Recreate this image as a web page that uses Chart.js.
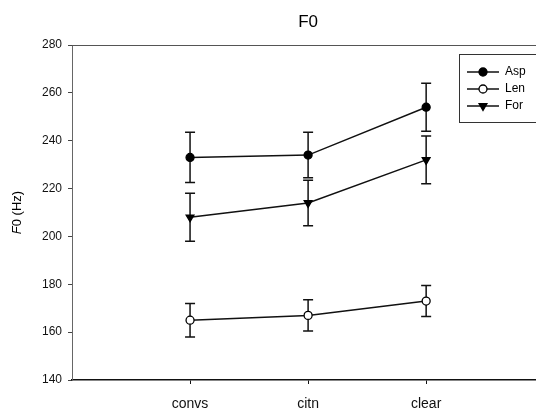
<!DOCTYPE html>
<html>
<head>
<meta charset="utf-8">
<script src="https://cdn.jsdelivr.net/npm/chart.js@4.4.1/dist/chart.umd.min.js"></script>
<style>
  html, body { margin: 0; padding: 0; background: #fff; overflow: hidden; }
  #wrap { width: 550px; height: 416px; }
</style>
</head>
<body>
<div id="wrap"><canvas id="f0Chart" width="550" height="416"></canvas></div>
<script>
// speaking conditions on the x axis
const categories = ['convs', 'citn', 'clear'];

// mean F0 per group (Hz) and the error bar half-widths
const aspValues = [233, 234, 254];
const aspErrors = [10.5, 9.5, 10];
const lenValues = [165, 167, 173];
const lenErrors = [7, 6.5, 6.5];
const forValues = [208, 214, 232];
const forErrors = [10, 9.5, 10];

const yTicks = [140, 160, 180, 200, 220, 240, 260, 280];

const FONT = "'Liberation Sans', Arial, sans-serif";

function toPoints(values) {
  return values.map((v, i) => ({ x: i + 1, y: v }));
}

// error bars drawn under the markers, through the chart scales
const errorBars = {
  id: 'errorBars',
  beforeDatasetsDraw(chart) {
    const { ctx, scales: { x, y } } = chart;
    ctx.save();
    ctx.strokeStyle = '#111';
    ctx.lineWidth = 1.5;
    chart.data.datasets.forEach(ds => {
      ds.data.forEach((p, i) => {
        const px = x.getPixelForValue(p.x);
        const top = y.getPixelForValue(p.y + ds.errors[i]);
        const bot = y.getPixelForValue(p.y - ds.errors[i]);
        ctx.beginPath();
        ctx.moveTo(px, top); ctx.lineTo(px, bot);
        ctx.moveTo(px - 5, top); ctx.lineTo(px + 5, top);
        ctx.moveTo(px - 5, bot); ctx.lineTo(px + 5, bot);
        ctx.stroke();
      });
    });
    ctx.restore();
  }
};

// title, y label with italic F, top frame line and the boxed legend
const decorations = {
  id: 'decorations',
  afterDraw(chart) {
    const { ctx, chartArea } = chart;
    ctx.save();

    // top frame
    ctx.strokeStyle = '#555';
    ctx.lineWidth = 1;
    ctx.beginPath();
    ctx.moveTo(chartArea.left, chartArea.top + 0.5);
    ctx.lineTo(chartArea.right, chartArea.top + 0.5);
    ctx.stroke();

    // title
    ctx.fillStyle = '#000';
    ctx.font = '17px ' + FONT;
    ctx.textAlign = 'center';
    ctx.textBaseline = 'middle';
    ctx.fillText('F0', (chartArea.left + chartArea.right) / 2, 22);

    // y axis title
    ctx.translate(17, (chartArea.top + chartArea.bottom) / 2);
    ctx.rotate(-Math.PI / 2);
    ctx.font = 'italic 13px ' + FONT;
    const wF = ctx.measureText('F').width;
    ctx.font = '13px ' + FONT;
    const rest = '0 (Hz)';
    const wRest = ctx.measureText(rest).width;
    const start = -(wF + wRest) / 2;
    ctx.textAlign = 'left';
    ctx.font = 'italic 13px ' + FONT;
    ctx.fillText('F', start, 0);
    ctx.font = '13px ' + FONT;
    ctx.fillText(rest, start + wF, 0);
    ctx.setTransform(1, 0, 0, 1, 0, 0);

    // legend box
    const bx = 459, by = 54, bw = 120, bh = 68;
    ctx.strokeStyle = '#333';
    ctx.lineWidth = 1;
    ctx.strokeRect(bx + 0.5, by + 0.5, bw, bh);
    const rowY = [72, 89, 106];
    chart.data.datasets.forEach((ds, i) => {
      const yy = rowY[i];
      ctx.strokeStyle = ds.borderColor;
      ctx.lineWidth = 1.5;
      ctx.beginPath();
      ctx.moveTo(467, yy); ctx.lineTo(499, yy);
      ctx.stroke();
      ctx.fillStyle = ds.pointBackgroundColor;
      ctx.strokeStyle = ds.pointBorderColor;
      ctx.lineWidth = ds.pointBorderWidth;
      Chart.helpers.drawPoint(ctx, {
        pointStyle: ds.pointStyle,
        rotation: ds.pointRotation || 0,
        radius: ds.pointRadius,
        borderWidth: ds.pointBorderWidth
      }, 483, yy);
      ctx.fillStyle = '#000';
      ctx.font = '12px ' + FONT;
      ctx.textAlign = 'left';
      ctx.textBaseline = 'middle';
      ctx.fillText(ds.label, 505, yy);
    });
    ctx.restore();
  }
};

function series(label, values, errors, style) {
  return Object.assign({
    label,
    data: toPoints(values),
    errors,
    borderColor: '#111',
    borderWidth: 1.5,
    pointRadius: 4,
    pointHoverRadius: 4,
    pointBorderWidth: 1.3,
    pointBorderColor: '#000',
    pointBackgroundColor: '#000',
    tension: 0
  }, style);
}

new Chart(document.getElementById('f0Chart'), {
  type: 'line',
  data: {
    datasets: [
      series('Asp', aspValues, aspErrors, { pointStyle: 'circle' }),
      series('Len', lenValues, lenErrors, { pointStyle: 'circle', pointBackgroundColor: '#fff' }),
      series('For', forValues, forErrors, { pointStyle: 'triangle', pointRotation: 180, pointRadius: 4.5 })
    ]
  },
  options: {
    responsive: false,
    animation: false,
    events: [],
    layout: { padding: { top: 45, left: 0, right: 0, bottom: 0 } },
    plugins: {
      legend: { display: false },
      title: { display: false },
      tooltip: { enabled: false }
    },
    scales: {
      x: {
        type: 'linear',
        min: 0,
        max: 4,
        afterBuildTicks: scale => {
          scale.ticks = categories.map((c, i) => ({ value: i + 1 }));
        },
        afterFit: scale => { scale.height = 36; },
        grid: { drawOnChartArea: false, drawTicks: true, tickLength: 4, color: '#111' },
        border: { color: '#111', width: 1.5 },
        ticks: {
          color: '#111',
          padding: 12,
          maxRotation: 0,
          font: { family: FONT, size: 14 },
          callback: v => categories[v - 1]
        }
      },
      y: {
        min: 140,
        max: 280,
        afterBuildTicks: scale => {
          scale.ticks = yTicks.map(v => ({ value: v }));
        },
        afterFit: scale => { scale.width = 72; },
        grid: { drawOnChartArea: false, drawTicks: true, tickLength: 4, color: '#444' },
        border: { color: '#666', width: 1 },
        ticks: {
          color: '#111',
          padding: 6,
          font: { family: FONT, size: 12 }
        }
      }
    }
  },
  plugins: [errorBars, decorations]
});
</script>
</body>
</html>
